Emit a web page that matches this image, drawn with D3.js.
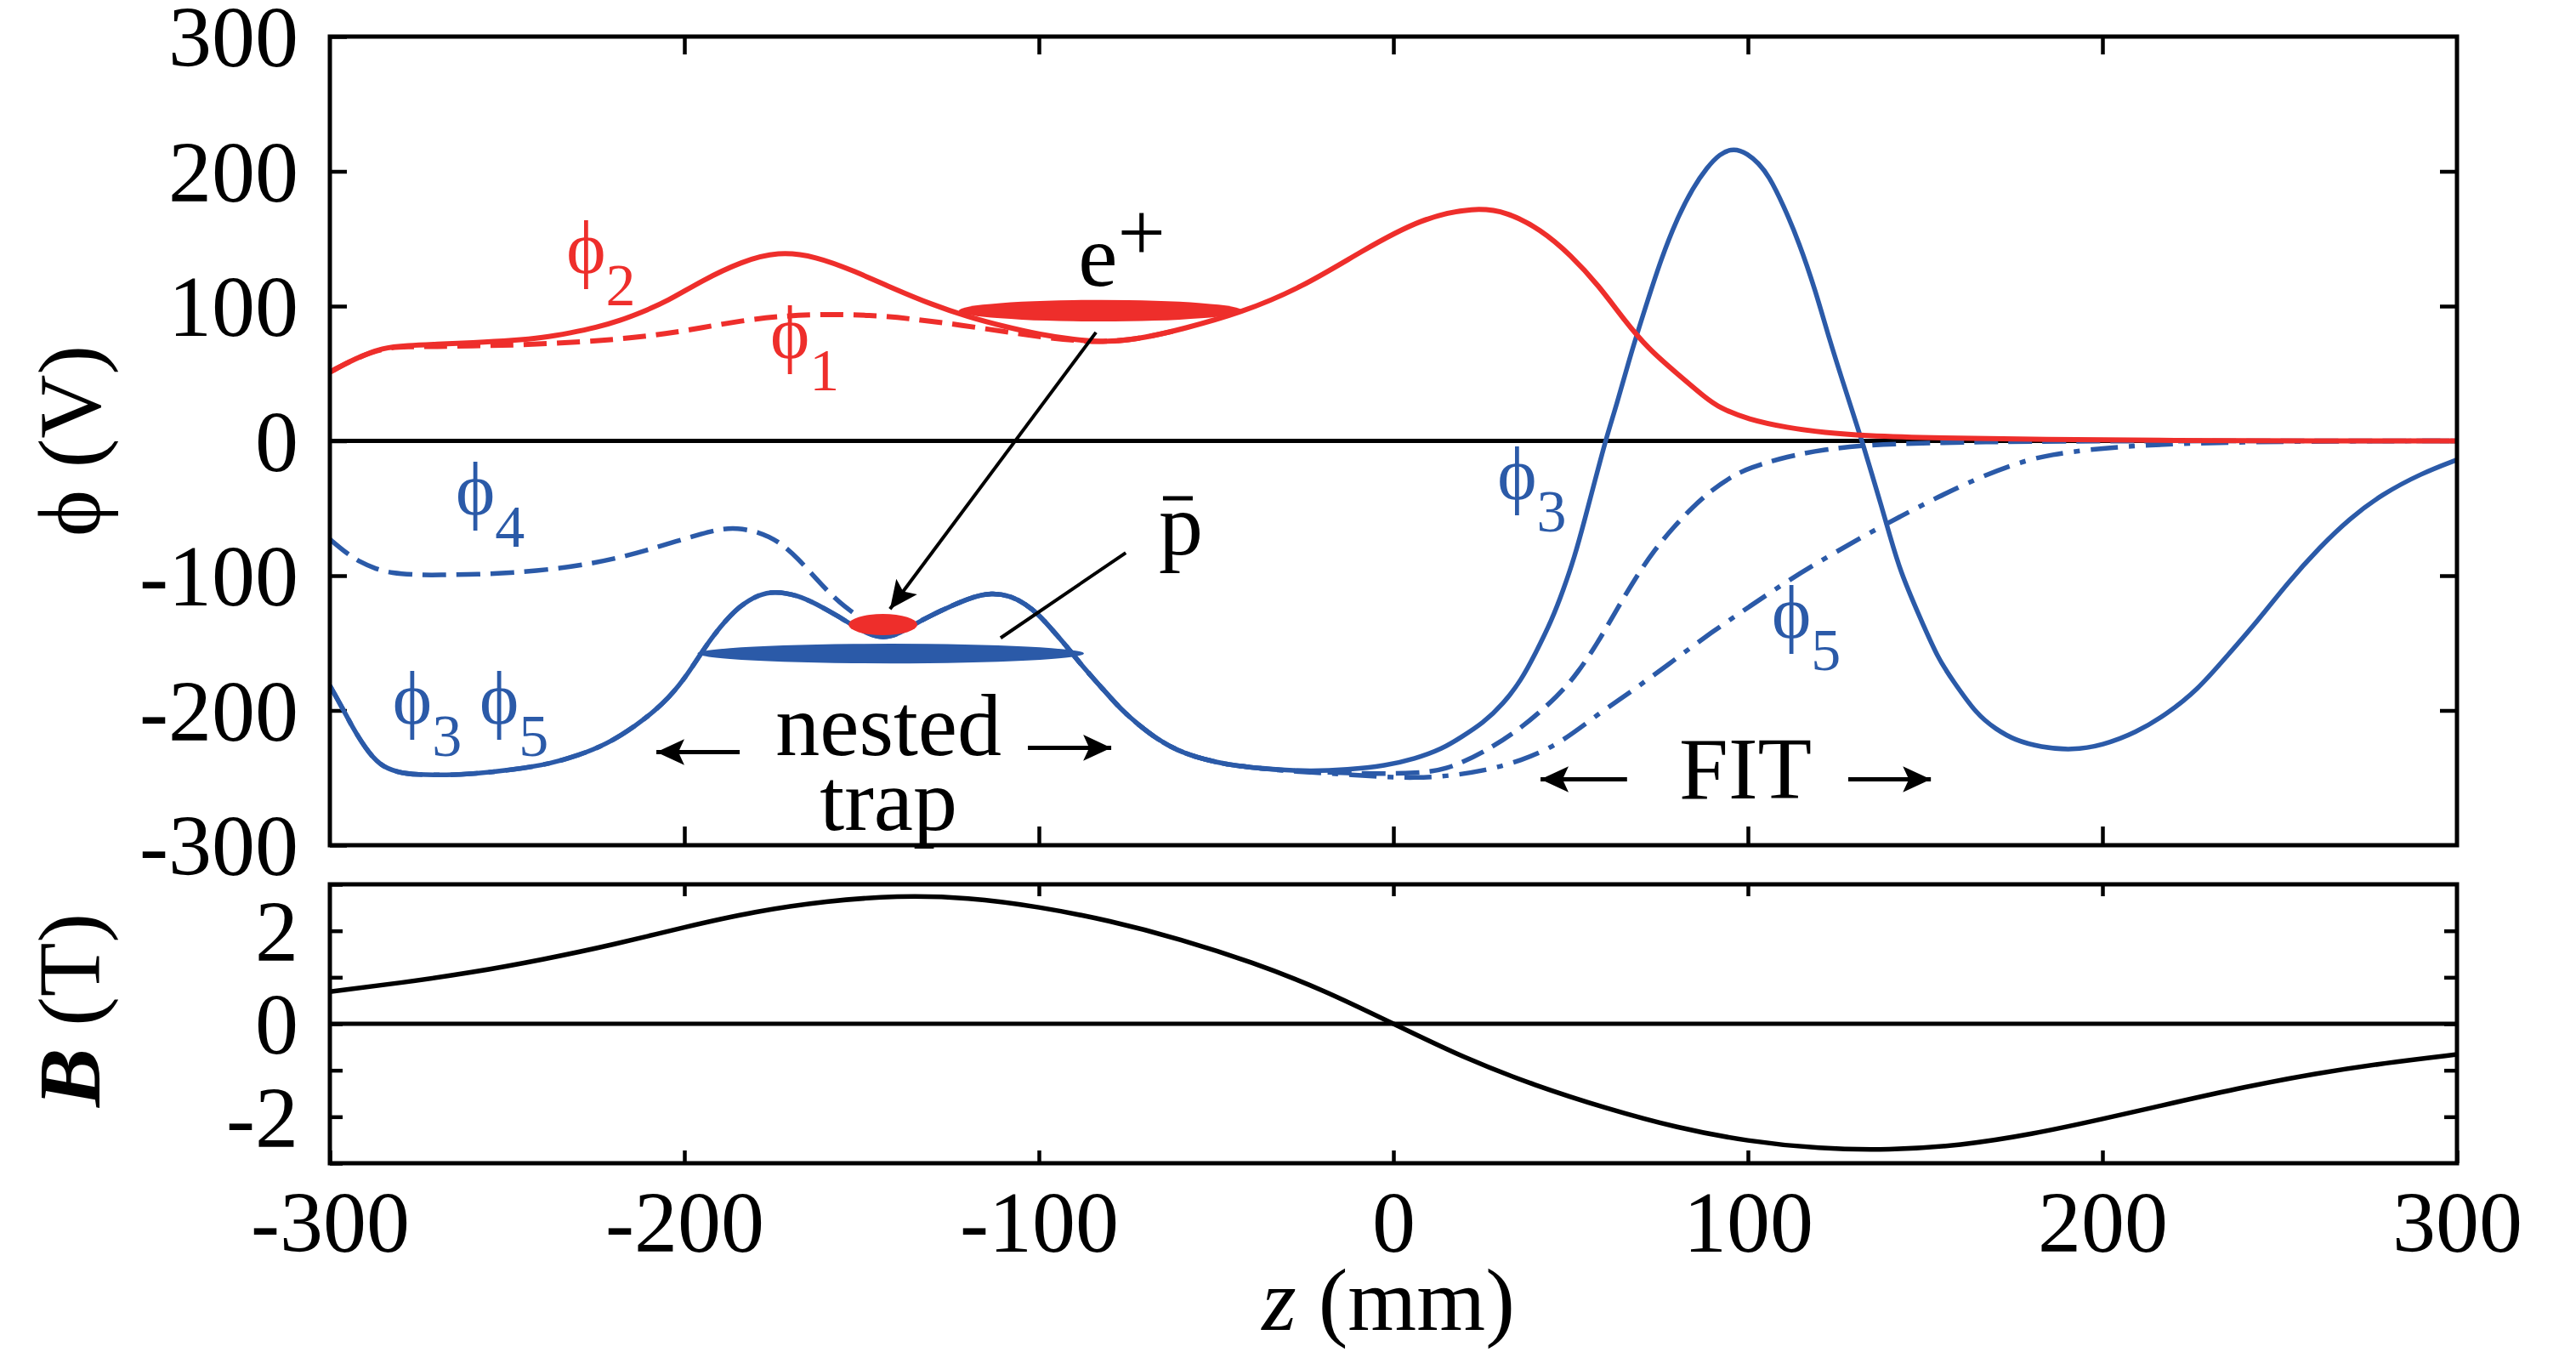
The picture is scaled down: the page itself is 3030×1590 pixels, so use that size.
<!DOCTYPE html>
<html><head><meta charset="utf-8">
<script src="https://cdn.jsdelivr.net/npm/d3@7"></script>
<style>
html,body{margin:0;padding:0;background:#fff;}
svg text{font-family:"Liberation Serif","Times New Roman",serif;fill:#000;}
</style>
</head><body>
<svg id="chart" width="3030" height="1590"></svg>
<script>
// ---------- data ----------
const zTicks = [-300, -200, -100, 0, 100, 200, 300];
const zInnerTicks = [-200, -100, 0, 100, 200];
const phiTicks = [-300, -200, -100, 0, 100, 200, 300];
const bTicks = [-3, -2, -1, 0, 1, 2, 3];
const bTickLabels = [-2, 0, 2];

// phi2 (red, solid)
const phi2 = [[-300,51],[-293,61],[-285,69.4],[-278,70.8],[-270,71.7],[-260,72.8],[-248,74.5],[-240,76.5],[-232,80.2],[-225,84],[-218,89.4],[-212,95.5],[-205,103.3],[-195,119],[-184,133],[-173.5,140.6],[-163,137],[-152,126],[-141,113],[-130,101],[-120,92],[-110,85],[-100,79],[-90,75],[-81,73],[-70,76.5],[-59.5,83],[-43,95],[-26,113.6],[-9,140.8],[8,165.5],[23,173.4],[32,170],[41.5,157],[50,138],[58,115],[65,90],[72,68],[80,50],[88,32],[92,24.5],[100,16],[111,9.8],[122,6],[132,3.9],[154,2],[183,1],[220,0.3],[260,0],[300,0]];
// phi1 (red, dashed) – coincides with phi2 beyond z = -70
const phi1 = [[-300,51],[-293,61],[-285,69],[-278,70],[-270,70],[-260,70.5],[-248,71],[-227,73.6],[-215,76.5],[-205.5,79.3],[-195,84],[-184,89.2],[-173,92.5],[-163,94],[-147,93.4],[-136,90.6],[-122,86],[-106,79.5],[-93,75],[-81,73],[-70,76.5],[-59.5,83]];
// phi3 (blue, solid)
const phi3 = [[-300,-181.6],[-296.5,-198],[-293.6,-212.6],[-290,-228],[-286,-240.7],[-281,-246],[-275.4,-247.8],[-267,-248],[-259.3,-247],[-248,-244],[-237.6,-239.4],[-230,-233.5],[-222,-225.2],[-214,-212],[-206,-195.5],[-200,-177],[-195,-156.2],[-190,-138],[-184.4,-122.2],[-179,-114],[-174.6,-111.5],[-168,-114.5],[-162.8,-121],[-157,-129.5],[-152,-137.8],[-148,-143.5],[-144,-146.2],[-140,-144],[-134.8,-135.5],[-130,-129],[-125.2,-123],[-119,-116],[-113.4,-112.6],[-108,-115],[-103.8,-121],[-100,-129],[-96.3,-140],[-92,-153],[-87.8,-167],[-82,-184],[-77,-198.9],[-72,-210.5],[-66.3,-222],[-61,-229.5],[-55.6,-234.7],[-50,-238.3],[-44.9,-241],[-34,-243.8],[-23.5,-245.2],[-13,-244],[-2.2,-241],[6,-236],[13.9,-228.4],[19,-220],[25.3,-209.4],[31,-195],[36,-177.8],[40,-158],[44.6,-133.6],[48,-110],[51,-87],[54,-58],[57,-28],[60,2],[63,27],[67,65],[71.2,100],[75.5,135],[80,165],[84.5,188],[88.5,203],[92,213],[96,217.5],[100,213],[103,206],[105.8,197],[110,175],[114.4,147.4],[119,112],[123,75],[127,42],[129.7,20],[132.4,-2],[135,-25],[137.6,-48],[140,-70],[143,-97],[148,-128],[153.7,-162],[157.6,-177],[164.5,-203],[170,-214],[175.2,-222],[182.6,-227.3],[191.4,-229.6],[200,-226],[209.5,-216.5],[218,-203],[226.8,-184.9],[235,-160],[244,-132.9],[252,-106],[261.3,-78.7],[270,-57],[278.6,-40],[290,-24],[300,-14]];
// phi4 (blue, dashed)
const phi4 = [[-300,-73],[-295.5,-83],[-291.4,-90],[-287,-95],[-282.9,-98],[-275,-99.5],[-269.6,-99.5],[-258,-99],[-248.4,-97.8],[-237,-95.2],[-227,-91.3],[-219,-87],[-210.9,-81.4],[-203,-75],[-194.8,-68.7],[-190,-65.5],[-185.2,-64.5],[-179,-67.5],[-173.4,-74.4],[-168,-87],[-162.7,-102.7],[-159,-113],[-155.2,-122.3],[-150,-132],[-146,-140],[-142,-144.5],[-138,-141],[-134.8,-135.5],[-130,-129],[-125.2,-123],[-119,-116],[-113.4,-112.6],[-108,-115],[-103.8,-121],[-100,-129],[-96.3,-140],[-92,-153],[-87.8,-167],[-82,-184],[-77,-198.9],[-72,-210.5],[-66.3,-222],[-61,-229.5],[-55.6,-234.7],[-50,-238.3],[-44.9,-241],[-34,-244],[-23.5,-245.5],[-13,-246.5],[-2.2,-247],[6,-246.5],[14.6,-244.5],[25.3,-231.5],[36,-213.6],[46.8,-188.4],[52,-172],[57.5,-150.4],[62.8,-126],[68.2,-102],[73.6,-81],[79,-64],[84.4,-49],[89.7,-36.8],[95,-27],[100.4,-19.9],[111.1,-11.5],[121.8,-6.2],[132,-3.5],[143,-2],[165,-0.8],[200,0],[300,0]];
// phi5 (blue, dash-dot)
const phi5 = [[-300,-181.6],[-296.5,-198],[-293.6,-212.6],[-290,-228],[-286,-240.7],[-281,-246],[-275.4,-247.8],[-267,-248],[-259.3,-247],[-248,-244],[-237.6,-239.4],[-230,-233.5],[-222,-225.2],[-214,-212],[-206,-195.5],[-200,-177],[-195,-156.2],[-190,-138],[-184.4,-122.2],[-179,-114],[-174.6,-111.5],[-168,-114.5],[-162.8,-121],[-157,-129.5],[-152,-137.8],[-148,-143.5],[-144,-146.2],[-140,-144],[-134.8,-135.5],[-130,-129],[-125.2,-123],[-119,-116],[-113.4,-112.6],[-108,-115],[-103.8,-121],[-100,-129],[-96.3,-140],[-92,-153],[-87.8,-167],[-82,-184],[-77,-198.9],[-72,-210.5],[-66.3,-222],[-61,-229.5],[-55.6,-234.7],[-50,-238.3],[-44.9,-241],[-34,-244],[-23.5,-246],[-13,-247.5],[-2.2,-249.5],[6,-250],[14.6,-249],[25.3,-245],[36,-237.5],[46.8,-225],[57.5,-203],[68.2,-184],[79,-163],[89.7,-142],[100.4,-123],[111.1,-104],[121.8,-87],[132.4,-71],[143,-56],[153.7,-41.5],[164.5,-28],[175.2,-17],[185,-10],[201,-5],[220,-2],[250,-0.3],[300,0]];
// magnetic field B (T)
const bField = [[-300,0.69],[-280,0.88],[-260,1.1],[-240,1.38],[-220,1.7],[-200,2.08],[-180,2.42],[-160,2.64],[-140,2.76],[-120,2.72],[-100,2.52],[-80,2.22],[-60,1.82],[-40,1.33],[-20,0.74],[0,0],[20,-0.74],[40,-1.33],[60,-1.82],[80,-2.24],[100,-2.53],[120,-2.69],[140,-2.72],[160,-2.62],[180,-2.38],[200,-2.05],[220,-1.7],[240,-1.36],[260,-1.07],[280,-0.84],[300,-0.66]];

// particle clouds: centre (z, phi), full length in z, full height in phi
const cloudNames = ["ePlusCloud", "ePlusNested", "pbarCloud"];
const cloudZ = [-82.6, -144, -141.8];
const cloudPhi = [96.6, -136.3, -157.8];
const cloudLenZ = [80, 19.4, 109];
const cloudHPhi = [16, 15.8, 14.6];

// curve labels
const labelSeries = ["phi2", "phi1", "phi4", "phi3", "phi5", "phi3", "phi5"];
const labelSub = ["2", "1", "4", "3", "5", "3", "5"];
const labelZ = [-233.3, -175.8, -264.5, -282.3, -257.8, 29.3, 106.7];
const labelPhi = [124.8, 61.6, -54.6, -210, -210, -43.3, -146.2];

// ---------- layout ----------
const L = 388, R = 2890;
const topP = 43, botP = 994, topB = 1040, botB = 1368;
const RED = "#ee2e2b", BLUE = "#2b5aa8";
const seriesColor = {phi1: RED, phi2: RED, phi3: BLUE, phi4: BLUE, phi5: BLUE};
const FS = 102;

const svg = d3.select("#chart");
const x = d3.scaleLinear().domain([-300, 300]).range([L, R]);
const yP = d3.scaleLinear().domain([-300, 300]).range([botP, topP]);
const yB = d3.scaleLinear().domain([-3, 3]).range([botB, topB]);

const defs = svg.append("defs");
defs.append("clipPath").attr("id", "clipP").append("rect")
  .attr("x", L).attr("y", topP).attr("width", R - L).attr("height", botP - topP);
defs.append("clipPath").attr("id", "clipB").append("rect")
  .attr("x", L).attr("y", topB).attr("width", R - L).attr("height", botB - topB);
defs.append("marker").attr("id", "ah").attr("markerUnits", "userSpaceOnUse")
  .attr("markerWidth", 40).attr("markerHeight", 40).attr("viewBox", "-30 -15 34 30")
  .attr("refX", 2).attr("refY", 0).attr("orient", "auto")
  .append("path").attr("d", "M-26,-13 L2,0 L-26,13 L-20,0 Z").attr("fill", "#000");

// ---------- axes (ticks) ----------
function styleAxis(g) {
  g.select(".domain").remove();
  g.selectAll(".tick line").attr("stroke", "#000").attr("stroke-width", 4.5);
  g.selectAll(".tick text").attr("font-size", FS).attr("fill", "#000")
    .attr("font-family", '"Liberation Serif","Times New Roman",serif');
}
const fmt = d => String(d);
// phi panel
svg.append("g").attr("transform", `translate(${L},0)`)
  .call(d3.axisLeft(yP).tickValues(phiTicks).tickSize(-20).tickPadding(37).tickFormat(fmt))
  .call(styleAxis).call(g => g.selectAll(".tick text").attr("dy", "0.34em"));
svg.append("g").attr("transform", `translate(${R},0)`)
  .call(d3.axisRight(yP).tickValues(phiTicks.slice(1, -1)).tickSize(-20).tickFormat(""))
  .call(styleAxis);
svg.append("g").attr("transform", `translate(0,${topP})`)
  .call(d3.axisTop(x).tickValues(zInnerTicks).tickSize(-21).tickFormat(""))
  .call(styleAxis);
svg.append("g").attr("transform", `translate(0,${botP})`)
  .call(d3.axisBottom(x).tickValues(zInnerTicks).tickSize(-22).tickFormat(""))
  .call(styleAxis);
// B panel
svg.append("g").attr("transform", `translate(${L},0)`)
  .call(d3.axisLeft(yB).tickValues(bTicks).tickSize(-15).tickPadding(37)
    .tickFormat(d => bTickLabels.includes(d) ? fmt(d) : ""))
  .call(styleAxis).call(g => g.selectAll(".tick text").attr("dy", "0.34em"));
svg.append("g").attr("transform", `translate(${R},0)`)
  .call(d3.axisRight(yB).tickValues(bTicks.slice(1, -1)).tickSize(-15).tickFormat(""))
  .call(styleAxis);
svg.append("g").attr("transform", `translate(0,${topB})`)
  .call(d3.axisTop(x).tickValues(zInnerTicks).tickSize(-14).tickFormat(""))
  .call(styleAxis);
svg.append("g").attr("transform", `translate(0,${botB})`)
  .call(d3.axisBottom(x).tickValues(zTicks).tickSize(-15).tickFormat(fmt))
  .call(styleAxis)
  .call(g => g.selectAll(".tick text").attr("y", 104).attr("dy", 0));

// zero lines
svg.append("line").attr("x1", L).attr("x2", R).attr("y1", yP(0)).attr("y2", yP(0))
  .attr("stroke", "#000").attr("stroke-width", 5);
svg.append("line").attr("x1", L).attr("x2", R).attr("y1", yB(0)).attr("y2", yB(0))
  .attr("stroke", "#000").attr("stroke-width", 5);

// ---------- curves ----------
const lineP = d3.line().x(d => x(d[0])).y(d => yP(d[1])).curve(d3.curveBasis);
const lineB = d3.line().x(d => x(d[0])).y(d => yB(d[1])).curve(d3.curveBasis);
const gP = svg.append("g").attr("clip-path", "url(#clipP)");
const curves = [
  {data: phi3, key: "phi3", w: 5.5, dash: null},
  {data: phi4, key: "phi4", w: 5.5, dash: "28,12"},
  {data: phi5, key: "phi5", w: 5.5, dash: "32,13,7,13"},
  {data: phi1, key: "phi1", w: 6, dash: "27,12"},
  {data: phi2, key: "phi2", w: 6, dash: null}
];
curves.forEach(c => {
  gP.append("path").attr("d", lineP(c.data)).attr("fill", "none")
    .attr("stroke", seriesColor[c.key]).attr("stroke-width", c.w)
    .attr("stroke-dasharray", c.dash).attr("stroke-linejoin", "round");
});
svg.append("g").attr("clip-path", "url(#clipB)").append("path")
  .attr("d", lineB(bField)).attr("fill", "none").attr("stroke", "#000").attr("stroke-width", 5.5);

// ---------- clouds ----------
const cloudColor = [RED, RED, BLUE];
cloudNames.forEach((n, i) => {
  const x0 = x(cloudZ[i] - cloudLenZ[i] / 2), x1 = x(cloudZ[i] + cloudLenZ[i] / 2);
  const y0 = yP(cloudPhi[i] + cloudHPhi[i] / 2), y1 = yP(cloudPhi[i] - cloudHPhi[i] / 2);
  svg.append("ellipse").attr("class", n).attr("cx", (x0 + x1) / 2).attr("cy", (y0 + y1) / 2)
    .attr("rx", (x1 - x0) / 2).attr("ry", (y1 - y0) / 2).attr("fill", cloudColor[i]);
});

// ---------- annotations ----------
svg.append("line").attr("x1", x(-83.9)).attr("y1", yP(80.5)).attr("x2", x(-142)).attr("y2", yP(-124.8))
  .attr("stroke", "#000").attr("stroke-width", 4).attr("marker-end", "url(#ah)");
svg.append("line").attr("x1", x(-75.5)).attr("y1", yP(-83)).attr("x2", x(-110.8)).attr("y2", yP(-146.2))
  .attr("stroke", "#000").attr("stroke-width", 4);

const eT = svg.append("text").attr("x", x(-88.9)).attr("y", yP(115.3)).attr("font-size", 104);
eT.append("tspan").text("e");
eT.append("tspan").attr("dy", -29).attr("font-size", 100).text("+");
const pbx = x(-66.2), pby = yP(-84.3);
svg.append("text").attr("x", pbx).attr("y", pby).attr("font-size", 104).text("p");
svg.append("line").attr("x1", pbx + 5).attr("x2", pbx + 40).attr("y1", pby - 66).attr("y2", pby - 66)
  .attr("stroke", "#000").attr("stroke-width", 5);

svg.append("text").attr("x", x(-142.4)).attr("y", yP(-233)).attr("font-size", 104)
  .attr("text-anchor", "middle").text("nested");
svg.append("text").attr("x", x(-142.4)).attr("y", yP(-288.4)).attr("font-size", 104)
  .attr("text-anchor", "middle").text("trap");
svg.append("text").attr("x", x(99.3)).attr("y", yP(-265.6)).attr("font-size", 104)
  .attr("text-anchor", "middle").text("FIT");
// horizontal arrows [zFrom, zTo, phi]
const hArrows = [[-184.4, -207.9, -230.9], [-103.1, -79.6, -227.7], [65.9, 41.5, -251.1], [128.3, 151.6, -251.1]];
hArrows.forEach(a => {
  svg.append("line").attr("x1", x(a[0])).attr("x2", x(a[1])).attr("y1", yP(a[2])).attr("y2", yP(a[2]))
    .attr("stroke", "#000").attr("stroke-width", 5).attr("marker-end", "url(#ah)");
});

labelSeries.forEach((s, i) => {
  const t = svg.append("text").attr("x", x(labelZ[i])).attr("y", yP(labelPhi[i]))
    .attr("fill", seriesColor[s]).style("fill", seriesColor[s]).attr("font-size", 88);
  t.append("tspan").text("\u03D5");
  t.append("tspan").attr("dy", 38).attr("font-size", 70).text(labelSub[i]);
});

// ---------- frames ----------
svg.append("rect").attr("x", L).attr("y", topP).attr("width", R - L).attr("height", botP - topP)
  .attr("fill", "none").attr("stroke", "#000").attr("stroke-width", 5);
svg.append("rect").attr("x", L).attr("y", topB).attr("width", R - L).attr("height", botB - topB)
  .attr("fill", "none").attr("stroke", "#000").attr("stroke-width", 5);

// ---------- axis titles ----------
svg.append("text").attr("transform", `translate(117,${(topP + botP) / 2}) rotate(-90)`)
  .attr("text-anchor", "middle").attr("font-size", 104).text("\u03D5 (V)");
const bt = svg.append("text").attr("transform", `translate(117,${(topB + botB) / 2 - 16}) rotate(-90)`)
  .attr("text-anchor", "middle").attr("font-size", 104);
bt.append("tspan").attr("font-style", "italic").attr("font-weight", "bold").text("B");
bt.append("tspan").text(" (T)");
const zt = svg.append("text").attr("x", 1633).attr("y", 1564).attr("text-anchor", "middle").attr("font-size", 104);
zt.append("tspan").attr("font-style", "italic").text("z");
zt.append("tspan").text(" (mm)");
</script>
</body></html>
